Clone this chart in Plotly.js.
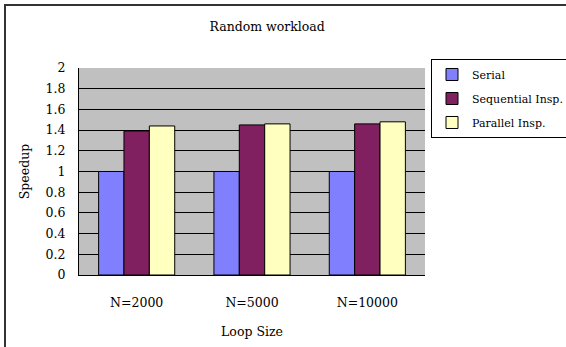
<!DOCTYPE html>
<html>
<head>
<meta charset="utf-8">
<script src="https://cdn.plot.ly/plotly-3.0.1.min.js"></script>
<style>
html,body{margin:0;padding:0;background:#fff;}
#chart{width:566px;height:347px;position:relative;}
#frame{position:absolute;left:4px;top:4px;width:600px;height:400px;border-left:2px solid #333;border-top:2px solid #333;pointer-events:none;}
</style>
</head>
<body>
<div id="chart"></div>
<div id="frame"></div>
<script>
const categories = ["N=2000", "N=5000", "N=10000"];
const seriesNames = ["Serial", "Sequential Insp.", "Parallel Insp."];
const serial = [1, 1, 1];
const sequential = [1.39, 1.45, 1.46];
const parallel = [1.44, 1.46, 1.48];
const yTicks = [0, 0.2, 0.4, 0.6, 0.8, 1, 1.2, 1.4, 1.6, 1.8, 2];

const colors = ["#8080FF", "#802060", "#FFFFC0"];
const values = [serial, sequential, parallel];
const FONT = "DejaVu Serif";

const traces = values.map((v, i) => ({
  type: "bar",
  name: seriesNames[i],
  x: categories,
  y: v,
  legendgroup: "g" + i,
  marker: {color: colors[i], line: {color: "#000", width: 1}},
  hoverinfo: "x+y+name"
}));

const layout = {
  width: 566, height: 347,
  margin: {l: 79, r: 141, t: 68, b: 72},
  paper_bgcolor: "#fff",
  plot_bgcolor: "#C0C0C0",
  font: {family: FONT, size: 12, color: "#000"},
  title: {text: "Random workload", x: 0.472, xanchor: "center", y: 0.922, yanchor: "middle", font: {family: FONT, size: 12.5}},
  barmode: "group",
  bargap: 0.34,
  bargroupgap: 0,
  xaxis: {
    title: {text: "Loop Size", standoff: 18, font: {family: FONT, size: 12.5}},
    showgrid: false, showline: true, linecolor: "#000", linewidth: 1,
    ticks: "", ticklabelstandoff: 16, tickfont: {family: FONT, size: 12.5},
    mirror: false
  },
  yaxis: {
    title: {text: "Speedup", standoff: 13, font: {family: FONT, size: 12.5}},
    range: [0, 2], tickvals: yTicks, ticktext: yTicks.map(String),
    showgrid: true, gridcolor: "#000", gridwidth: 1,
    showline: true, linecolor: "#000", linewidth: 1,
    ticks: "", ticklabelstandoff: 10,
    tickfont: {family: FONT, size: 12.5},
    zeroline: false, fixedrange: true
  },
  legend: {
    xref: "container", yref: "container",
    x: 0.7615, xanchor: "left", y: 0.83, yanchor: "top",
    bgcolor: "#fff", bordercolor: "#000", borderwidth: 1,
    font: {family: FONT, size: 11},
    traceorder: "grouped", tracegroupgap: 5,
    itemwidth: 30
  },
  showlegend: true
};

Plotly.newPlot("chart", traces, layout, {displayModeBar: false, staticPlot: true});
</script>
</body>
</html>
